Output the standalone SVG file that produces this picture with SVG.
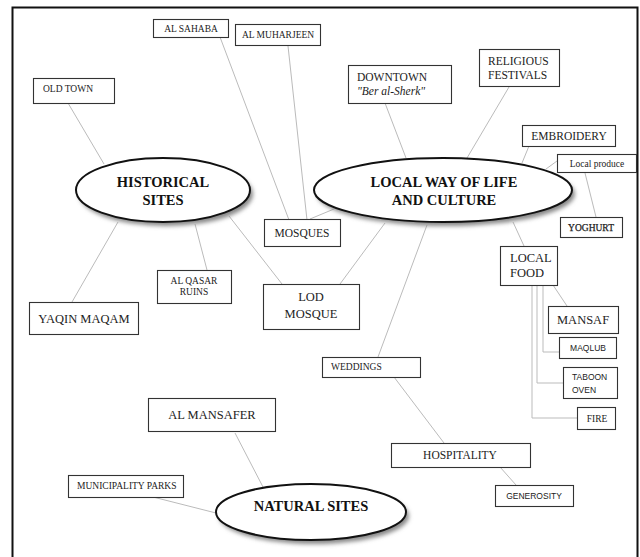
<svg xmlns="http://www.w3.org/2000/svg" width="640" height="557" viewBox="0 0 640 557">
<defs>
<filter id="sh" x="-20%" y="-20%" width="140%" height="150%">
<feGaussianBlur stdDeviation="2"/>
</filter>
<style>
.box{fill:#fff;stroke:#333;stroke-width:1.1}
.ell{fill:#fff;stroke:#111;stroke-width:2}
.shd{fill:#888;filter:url(#sh)}
.con{stroke:#bbb;stroke-width:1;fill:none}
text{font-family:"Liberation Serif","Times New Roman",serif;fill:#222}
.t{font-size:9.5px}
.m{font-size:11.5px}
.l{font-size:12.5px}
.s{font-family:"Liberation Sans",Arial,sans-serif;font-size:8.5px}
.b{font-weight:bold;font-size:14.5px;fill:#111}
.c{text-anchor:middle}
</style>
</defs>
<rect width="640" height="557" fill="#fff"/>
<path d="M12.5,560 V7.5 H637.5 V560" fill="none" stroke="#111" stroke-width="2"/>

<g id="connectors">
<line class="con" x1="68" y1="103" x2="104" y2="164"/>
<line class="con" x1="220" y1="37" x2="289" y2="220"/>
<line class="con" x1="288" y1="46" x2="307" y2="220"/>
<line class="con" x1="310" y1="219" x2="334" y2="209"/>
<line class="con" x1="385" y1="103" x2="406" y2="158"/>
<line class="con" x1="509" y1="87" x2="467" y2="158"/>
<line class="con" x1="529" y1="146" x2="522" y2="163"/>
<line class="con" x1="557" y1="161" x2="546" y2="169"/>
<line class="con" x1="585" y1="173" x2="596" y2="217"/>
<line class="con" x1="513" y1="222" x2="524" y2="246"/>
<line class="con" x1="553" y1="285" x2="567" y2="306"/>
<polyline class="con" points="543,285 543,352 559,352"/>
<polyline class="con" points="537,285 537,383 563,383"/>
<polyline class="con" points="532,285 532,418 577,418"/>
<line class="con" x1="118" y1="222" x2="72" y2="302"/>
<line class="con" x1="195" y1="224" x2="207" y2="270"/>
<line class="con" x1="229" y1="216" x2="282" y2="284"/>
<line class="con" x1="385" y1="223" x2="340" y2="284"/>
<line class="con" x1="427" y1="225" x2="378" y2="357"/>
<line class="con" x1="394" y1="377" x2="444" y2="443"/>
<line class="con" x1="500" y1="467" x2="516" y2="485"/>
<line class="con" x1="235" y1="433" x2="263" y2="487"/>
<line class="con" x1="153" y1="497" x2="216" y2="513"/>
</g>

<g id="historical-sites">
<ellipse class="shd" cx="166" cy="194" rx="87" ry="32"/>
<ellipse class="ell" cx="163" cy="190" rx="87" ry="32"/>
<text class="b c" x="163" y="187">HISTORICAL</text>
<text class="b c" x="163" y="205">SITES</text>
</g>

<g id="local-way">
<ellipse class="shd" cx="446" cy="194" rx="129" ry="32"/>
<ellipse class="ell" cx="443" cy="190" rx="129" ry="32"/>
<text class="b c" x="444" y="187">LOCAL WAY OF LIFE</text>
<text class="b c" x="444" y="205">AND CULTURE</text>
</g>

<g id="natural-sites">
<ellipse class="shd" cx="314" cy="516" rx="95" ry="28"/>
<ellipse class="ell" cx="311" cy="512" rx="95" ry="28"/>
<text class="b c" x="311" y="511">NATURAL SITES</text>
</g>

<g id="al-sahaba">
<rect class="box" x="153.5" y="19.5" width="75" height="18"/>
<text class="t c" x="191" y="32">AL SAHABA</text>
</g>
<g id="al-muharjeen">
<rect class="box" x="235.5" y="24.5" width="85" height="21"/>
<text class="t c" x="278" y="38">AL MUHARJEEN</text>
</g>
<g id="old-town">
<rect class="box" x="33.5" y="78.5" width="81" height="25"/>
<text class="t" x="43" y="92">OLD TOWN</text>
</g>
<g id="downtown">
<rect class="box" x="348.5" y="65.5" width="103" height="38"/>
<text class="m" x="357" y="81">DOWNTOWN</text>
<text class="m" x="357" y="95" font-style="italic">"Ber al-Sherk"</text>
</g>
<g id="religious-festivals">
<rect class="box" x="479.5" y="49.5" width="80" height="37"/>
<text class="m" x="488" y="65">RELIGIOUS</text>
<text class="m" x="488" y="79">FESTIVALS</text>
</g>
<g id="embroidery">
<rect class="box" x="522.5" y="125.5" width="93" height="21"/>
<text class="m c" x="569" y="140">EMBROIDERY</text>
</g>
<g id="local-produce">
<rect class="box" x="557.5" y="154.5" width="79" height="18"/>
<text class="t c" x="597" y="167">Local produce</text>
</g>
<g id="yoghurt">
<rect class="box" x="560.5" y="217.5" width="62" height="20"/>
<text class="t c" x="591" y="231" stroke="#222" stroke-width="0.25">YOGHURT</text>
</g>
<g id="local-food">
<rect class="box" x="500.5" y="246.5" width="57" height="39"/>
<text class="l" x="510" y="262">LOCAL</text>
<text class="l" x="510" y="277">FOOD</text>
</g>
<g id="mansaf">
<rect class="box" x="548.5" y="306.5" width="70" height="27"/>
<text class="l" x="557" y="324">MANSAF</text>
</g>
<g id="maqlub">
<rect class="box" x="559.5" y="337.5" width="57" height="21"/>
<text class="s c" x="588" y="351">MAQLUB</text>
</g>
<g id="taboon-oven">
<rect class="box" x="563.5" y="367.5" width="54" height="31"/>
<text class="s" x="572" y="380">TABOON</text>
<text class="s" x="572" y="393">OVEN</text>
</g>
<g id="fire">
<rect class="box" x="577.5" y="407.5" width="38" height="22"/>
<text class="t c" x="597" y="422">FIRE</text>
</g>
<g id="mosques">
<rect class="box" x="264.5" y="219.5" width="76" height="27"/>
<text class="m c" x="302" y="237">MOSQUES</text>
</g>
<g id="lod-mosque">
<rect class="box" x="263.5" y="284.5" width="96" height="45"/>
<text class="l c" x="311" y="301">LOD</text>
<text class="l c" x="311" y="318">MOSQUE</text>
</g>
<g id="al-qasar-ruins">
<rect class="box" x="157.5" y="270.5" width="74" height="33"/>
<text class="t c" x="194" y="284">AL QASAR</text>
<text class="t c" x="194" y="295">RUINS</text>
</g>
<g id="yaqin-maqam">
<rect class="box" x="29.5" y="302.5" width="109" height="32"/>
<text class="l c" x="84" y="323">YAQIN MAQAM</text>
</g>
<g id="weddings">
<rect class="box" x="322.5" y="357.5" width="98" height="20"/>
<text class="t" x="331" y="370">WEDDINGS</text>
</g>
<g id="al-mansafer">
<rect class="box" x="148.5" y="398.5" width="127" height="33"/>
<text class="l c" x="212" y="419">AL MANSAFER</text>
</g>
<g id="municipality-parks">
<rect class="box" x="68.5" y="475.5" width="115" height="22"/>
<text class="t" x="77" y="489">MUNICIPALITY PARKS</text>
</g>
<g id="hospitality">
<rect class="box" x="391.5" y="443.5" width="139" height="24"/>
<text class="m c" x="460" y="459">HOSPITALITY</text>
</g>
<g id="generosity">
<rect class="box" x="495.5" y="485.5" width="78" height="21"/>
<text class="s c" x="534" y="499">GENEROSITY</text>
</g>
</svg>
